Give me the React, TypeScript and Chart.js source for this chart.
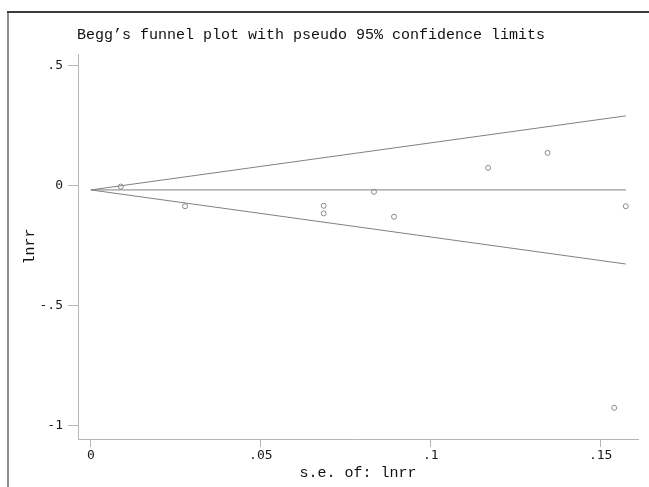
import React, { useEffect, useRef } from "react";
import { Chart, registerables } from "chart.js";

Chart.register(...registerables);

// Study estimates: standard error of lnrr (x) and lnrr (y)
const studySE = [0.0088, 0.0277, 0.0685, 0.0685, 0.0833, 0.0892, 0.1169, 0.1344, 0.1574, 0.154];
const studyLnrr = [-0.003, -0.085, -0.083, -0.115, -0.025, -0.129, 0.075, 0.1375, -0.085, -0.926];

// Pooled estimate line and pseudo 95% confidence limits (endpoints)
const limitSE = [0, 0.1574];
const pooledLine = [-0.017, -0.017];
const upperLimit = [-0.017, 0.292];
const lowerLimit = [-0.017, -0.326];

const xTicks = [0, 0.05, 0.1, 0.15];
const xTickLabels = ["0", ".05", ".1", ".15"];
const yTicks = [-1, -0.5, 0, 0.5];
const yTickLabels = ["-1", "-.5", "0", ".5"];

const titleText = "Begg\u2019s funnel plot with pseudo 95% confidence limits";
const xTitle = "s.e. of: lnrr";
const yTitle = "lnrr";

const MONO = '"Liberation Mono", "DejaVu Sans Mono", monospace';
const TICKFONT = '"DejaVu Sans Mono", "Liberation Mono", monospace';

export default function App() {
  const ref = useRef<HTMLCanvasElement | null>(null);

  useEffect(() => {
    if (!ref.current) return;
    const pts = studySE.map((x, i) => ({ x, y: studyLnrr[i] }));
    const line = (ys: number[]) => limitSE.map((x, i) => ({ x, y: ys[i] }));
    const lineStyle = {
      type: "line" as const,
      borderColor: "#808080",
      borderWidth: 1,
      pointRadius: 0,
      fill: false,
      tension: 0,
    };

    const titlePlugin = {
      id: "stataTitle",
      afterDraw(chart: any) {
        const ctx = chart.ctx;
        ctx.save();
        ctx.font = `15px ${MONO}`;
        ctx.fillStyle = "#111";
        ctx.textAlign = "left";
        ctx.textBaseline = "alphabetic";
        ctx.fillText(titleText, 77, 39);
        ctx.restore();
      },
    };

    const chart = new Chart(ref.current, {
      type: "scatter",
      data: {
        datasets: [
          { ...lineStyle, label: "upper", data: line(upperLimit) },
          { ...lineStyle, label: "lower", data: line(lowerLimit) },
          { ...lineStyle, label: "pooled", data: line(pooledLine) },
          {
            type: "scatter",
            label: "studies",
            data: pts,
            pointRadius: 2.5,
            pointBorderWidth: 1,
            pointBorderColor: "#8a8a8a",
            pointBackgroundColor: "rgba(0,0,0,0)",
            showLine: false,
          },
        ],
      },
      options: {
        responsive: false,
        animation: false,
        layout: { padding: { left: 0, right: 11, top: 54, bottom: 0 } },
        plugins: {
          legend: { display: false },
          tooltip: { enabled: false },
          title: { display: false },
        },
        scales: {
          x: {
            type: "linear",
            min: -0.0038,
            max: 0.161,
            afterFit(scale: any) {
              scale.height = 48;
            },
            afterBuildTicks(scale: any) {
              scale.ticks = xTicks.map((v) => ({ value: v }));
            },
            grid: {
              drawOnChartArea: false,
              drawTicks: true,
              tickLength: 8,
              tickColor: "#b5b5b5",
            },
            border: { display: true, color: "#b5b5b5", width: 1 },
            ticks: {
              padding: 1,
              color: "#1a1a1a",
              font: { family: TICKFONT, size: 13 },
              maxRotation: 0,
              autoSkip: false,
              callback: (v: any) => {
                const i = xTicks.indexOf(Number(v));
                return i >= 0 ? xTickLabels[i] : "";
              },
            },
            title: {
              display: true,
              text: xTitle,
              color: "#111",
              font: { family: MONO, size: 15 },
              padding: { top: 0, bottom: 5 },
            },
          },
          y: {
            type: "linear",
            min: -1.056,
            max: 0.55,
            afterFit(scale: any) {
              scale.width = 78;
            },
            afterBuildTicks(scale: any) {
              scale.ticks = yTicks.map((v) => ({ value: v }));
            },
            grid: {
              drawOnChartArea: false,
              drawTicks: true,
              tickLength: 10,
              tickColor: "#b5b5b5",
            },
            border: { display: true, color: "#b5b5b5", width: 1 },
            ticks: {
              padding: 5,
              color: "#1a1a1a",
              font: { family: TICKFONT, size: 13 },
              autoSkip: false,
              callback: (v: any) => {
                const i = yTicks.indexOf(Number(v));
                return i >= 0 ? yTickLabels[i] : "";
              },
            },
            title: {
              display: true,
              text: yTitle,
              color: "#111",
              font: { family: MONO, size: 15 },
              padding: { top: 21, bottom: 0 },
            },
          },
        },
      },
      plugins: [titlePlugin],
    });
    return () => chart.destroy();
  }, []);

  return (
    <div
      style={{
        position: "fixed",
        left: 0,
        top: 0,
        width: 649,
        height: 487,
        background: "#fff",
        overflow: "hidden",
      }}
    >
      <canvas
        ref={ref}
        width={649}
        height={487}
        style={{ position: "absolute", left: 0, top: 0, width: 649, height: 487, display: "block" }}
      />
      <div
        style={{
          position: "absolute",
          left: 7,
          top: 12,
          width: 2,
          height: 475,
          background: "#8c8c8c",
        }}
      />
      <div
        style={{
          position: "absolute",
          left: 7,
          top: 11,
          width: 642,
          height: 2,
          background: "#3c3c3c",
        }}
      />
    </div>
  );
}
